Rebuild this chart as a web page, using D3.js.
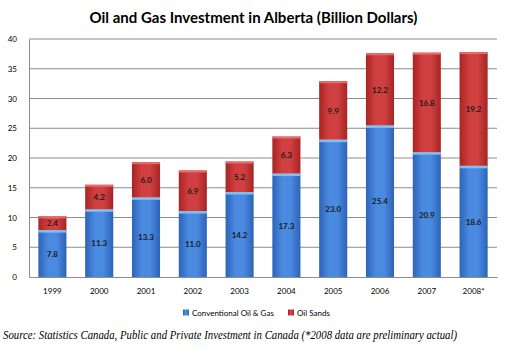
<!DOCTYPE html>
<html>
<head>
<meta charset="utf-8">
<script src="https://cdn.jsdelivr.net/npm/d3@7"></script>
<style>
  body { margin: 0; background: #fff; }
  svg { display: block; }
</style>
</head>
<body>
<div id="chart"></div>
<script>
// data
const years = ['1999', '2000', '2001', '2002', '2003', '2004', '2005', '2006', '2007', '2008*'];
const conventional = [7.8, 11.3, 13.3, 11.0, 14.2, 17.3, 23.0, 25.4, 20.9, 18.6];
const oilSands = [2.4, 4.2, 6.0, 6.9, 5.2, 6.3, 9.9, 12.2, 16.8, 19.2];
const yTicks = [0, 5, 10, 15, 20, 25, 30, 35, 40];
const seriesNames = ['Conventional Oil & Gas', 'Oil Sands'];

const width = 507, height = 351;
const margin = { top: 39, right: 10, bottom: 74, left: 29 };
const innerW = width - margin.left - margin.right;
const innerH = height - margin.top - margin.bottom;

const svg = d3.select('#chart').append('svg')
  .attr('width', width).attr('height', height);

const defs = svg.append('defs');
function barGrad(id, edge, mid) {
  const g = defs.append('linearGradient').attr('id', id)
    .attr('x1', '0%').attr('x2', '100%').attr('y1', '0%').attr('y2', '0%');
  g.append('stop').attr('offset', '0%').attr('stop-color', edge);
  g.append('stop').attr('offset', '35%').attr('stop-color', mid);
  g.append('stop').attr('offset', '65%').attr('stop-color', mid);
  g.append('stop').attr('offset', '100%').attr('stop-color', edge);
}
barGrad('gBlue', '#2d63b8', '#4a8ae0');
barGrad('gRed', '#a82424', '#d04040');

svg.append('text')
  .attr('x', width / 2).attr('y', 23)
  .attr('text-anchor', 'middle')
  .attr('font-family', 'Lato, sans-serif')
  .attr('font-weight', 'bold')
  .attr('font-size', '15px')
  .attr('fill', '#000')
  .text('Oil and Gas Investment in Alberta (Billion Dollars)');

const g = svg.append('g').attr('transform', `translate(${margin.left},${margin.top})`);

const x = d3.scaleBand().domain(years).range([0, innerW]).paddingInner(0.4).paddingOuter(0.2);
const y = d3.scaleLinear().domain([0, 40]).range([innerH, 0]);

// gridlines
g.append('g')
  .selectAll('line').data(yTicks.filter(d => d > 0)).join('line')
  .attr('x1', 0).attr('x2', innerW)
  .attr('y1', d => y(d)).attr('y2', d => y(d))
  .attr('stroke', '#8c8c8c').attr('stroke-width', 1);

const yAxis = g.append('g')
  .call(d3.axisLeft(y).tickValues(yTicks).tickSize(0).tickPadding(12));
yAxis.select('.domain').attr('stroke', '#8c8c8c');
yAxis.selectAll('text').attr('font-family', 'Lato, sans-serif').attr('font-size', '8px').attr('fill', '#000');

const xAxis = g.append('g').attr('transform', `translate(0,${innerH})`)
  .call(d3.axisBottom(x).tickSize(0).tickPadding(11));
xAxis.select('.domain').attr('stroke', '#8c8c8c');
xAxis.selectAll('text').attr('font-family', 'Lato, sans-serif').attr('font-size', '8px').attr('fill', '#000');

const rows = years.map((yr, i) => ({ yr, a: conventional[i], b: oilSands[i] }));

const bars = g.append('g').selectAll('g').data(rows).join('g');

bars.append('rect')
  .attr('x', d => x(d.yr)).attr('width', x.bandwidth())
  .attr('y', d => y(d.a)).attr('height', d => y(0) - y(d.a))
  .attr('fill', 'url(#gBlue)');
bars.append('rect')
  .attr('x', d => x(d.yr)).attr('width', x.bandwidth())
  .attr('y', d => y(d.a) - 0.5).attr('height', 2.5)
  .attr('fill', '#7ec0f5');

bars.append('rect')
  .attr('x', d => x(d.yr)).attr('width', x.bandwidth())
  .attr('y', d => y(d.a + d.b)).attr('height', d => y(d.a) - y(d.a + d.b) - 0.5)
  .attr('fill', 'url(#gRed)');
bars.append('rect')
  .attr('x', d => x(d.yr)).attr('width', x.bandwidth())
  .attr('y', d => y(d.a + d.b)).attr('height', 2)
  .attr('fill', '#e86a6a');

const labelFont = sel => sel
  .attr('text-anchor', 'middle').attr('dominant-baseline', 'central')
  .attr('font-family', 'Lato, sans-serif').attr('font-weight', 'bold')
  .attr('font-size', '8px').attr('fill', '#1a1a1a');

bars.append('text')
  .attr('x', d => x(d.yr) + x.bandwidth() / 2)
  .attr('y', d => (y(0) + y(d.a)) / 2)
  .call(labelFont)
  .text(d => d.a.toFixed(1));
bars.append('text')
  .attr('x', d => x(d.yr) + x.bandwidth() / 2)
  .attr('y', d => (y(d.a) + y(d.a + d.b)) / 2)
  .call(labelFont)
  .text(d => d.b.toFixed(1));

// legend
const legend = svg.append('g').attr('transform', 'translate(183,313)');
const legendItems = [
  { name: seriesNames[0], fill: 'url(#gBlue)', x: 0 },
  { name: seriesNames[1], fill: 'url(#gRed)', x: 105 }
];
const li = legend.selectAll('g').data(legendItems).join('g')
  .attr('transform', d => `translate(${d.x},0)`);
li.append('rect').attr('x', 0).attr('y', -3.5).attr('width', 6).attr('height', 6)
  .attr('fill', d => d.fill);
li.append('text').attr('x', 9).attr('y', 0)
  .attr('dominant-baseline', 'central')
  .attr('font-family', 'Lato, sans-serif').attr('font-size', '8px').attr('fill', '#000')
  .text(d => d.name);

svg.append('text')
  .attr('x', 3).attr('y', 339)
  .attr('font-family', '"Liberation Serif", serif')
  .attr('font-style', 'italic')
  .attr('font-size', '12px')
  .attr('textLength', 454)
  .attr('lengthAdjust', 'spacingAndGlyphs')
  .attr('fill', '#000')
  .text('Source: Statistics Canada, Public and Private Investment in Canada (*2008 data are preliminary actual)');
</script>
</body>
</html>
